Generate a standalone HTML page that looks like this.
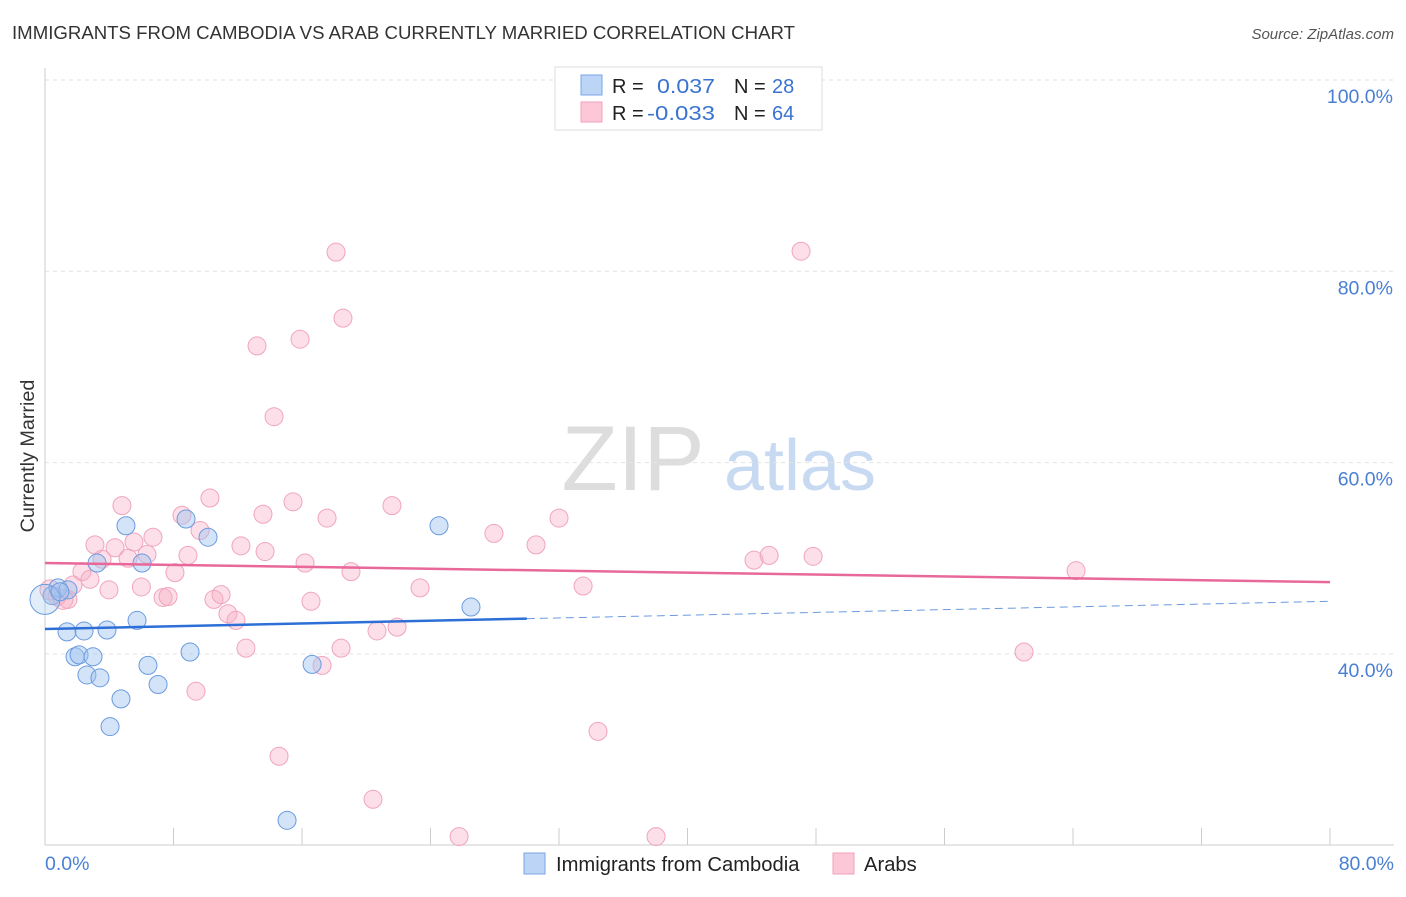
<!DOCTYPE html>
<html><head><meta charset="utf-8"><style>
body{margin:0;background:#fff;font-family:"Liberation Sans",sans-serif}
svg text{font-family:"Liberation Sans",sans-serif}
</style></head><body>
<svg id="c" width="1406" height="892" xmlns="http://www.w3.org/2000/svg">
<text x="12" y="39" font-size="18.6" fill="#333" textLength="783" lengthAdjust="spacingAndGlyphs">IMMIGRANTS FROM CAMBODIA VS ARAB CURRENTLY MARRIED CORRELATION CHART</text>
<text x="1394" y="39" font-size="15" fill="#555" text-anchor="end" font-style="italic">Source: ZipAtlas.com</text>
<text x="34" y="456" font-size="19.8" fill="#333" text-anchor="middle" transform="rotate(-90 34 456)">Currently Married</text>
<g><text x="633" y="490" font-size="92" fill="#ddd" text-anchor="middle" font-family="Liberation Serif">ZIP</text><text x="800" y="490" font-size="72" fill="#c8daf2" text-anchor="middle">atlas</text></g>
<g id="grid"></g><g id="axes"></g><g id="marks"></g>
<g>
<rect x="555" y="67" width="267" height="63" fill="#fff" stroke="#ddd"/>
<rect x="581" y="75" width="21" height="20" fill="#bcd4f6" stroke="#7aa6e6"/>
<rect x="581" y="102" width="21" height="20" fill="#fcc8d8" stroke="#f0a0b8"/>
<text x="612" y="93" font-size="20" fill="#222">R =</text>
<text x="657" y="93" font-size="20" fill="#3b73d1" textLength="58" lengthAdjust="spacingAndGlyphs">0.037</text>
<text x="734" y="93" font-size="20" fill="#222">N =</text>
<text x="772" y="93" font-size="20" fill="#3b73d1">28</text>
<text x="612" y="120" font-size="20" fill="#222">R =</text>
<text x="647" y="120" font-size="20" fill="#3b73d1" textLength="68" lengthAdjust="spacingAndGlyphs">-0.033</text>
<text x="734" y="120" font-size="20" fill="#222">N =</text>
<text x="772" y="120" font-size="20" fill="#3b73d1">64</text>
</g>
<g>
<rect x="524" y="853" width="21" height="21" fill="#bcd4f6" stroke="#7aa6e6"/>
<text x="556" y="871" font-size="20.2" fill="#222">Immigrants from Cambodia</text>
<rect x="833" y="853" width="21" height="21" fill="#fcc8d8" stroke="#f0a0b8"/>
<text x="864" y="871" font-size="20.2" fill="#222">Arabs</text>
</g>
</svg>
<script>
const yTicks=[40,60,80,100];
const xTickLabels=["0.0%","80.0%"];
const blueX=[0.44,0.81,1.43,5.04,6.04,3.24,8.78,10.15,1.37,2.43,3.86,5.73,1.87,2.12,2.99,2.61,3.42,6.41,7.04,9.03,4.73,4.05,15.07,16.63,24.53,26.52,0,0.93];
const blueY=[46.1,46.9,46.7,53.4,49.5,49.5,54.1,52.2,42.3,42.4,42.5,43.5,39.7,39.9,39.7,37.8,37.5,38.8,36.8,40.2,35.3,32.4,22.6,38.9,53.4,44.9,45.7,46.5];
const pinkX=[18.12,47.07,18.55,13.2,15.88,14.26,4.79,10.27,15.44,21.6,8.53,13.57,17.56,32.0,3.11,6.72,9.65,5.54,4.36,12.2,13.7,27.95,30.57,5.17,6.35,8.9,3.55,16.19,44.14,45.08,47.82,2.3,8.09,19.05,64.19,2.8,1.74,3.98,6.0,23.35,33.5,7.35,7.66,10.52,10.96,16.56,1.43,0.75,11.39,11.89,20.67,21.92,12.51,18.43,17.25,60.95,9.4,34.43,14.57,20.42,25.78,38.04,0.31,1.12];
const pinkY=[82.0,82.1,75.1,72.2,72.9,64.8,55.5,56.3,55.9,55.5,54.5,54.6,54.2,54.2,51.4,52.2,52.9,51.7,51.1,51.3,50.7,52.6,51.4,50.0,50.4,50.3,49.9,49.5,49.8,50.3,50.2,48.6,48.5,48.6,48.7,47.8,47.2,46.7,47.0,46.9,47.1,45.9,46.0,45.7,46.2,45.5,45.7,46.0,44.2,43.5,42.4,42.8,40.6,40.6,38.8,40.2,36.1,31.9,29.3,24.8,20.9,20.9,46.7,45.7];
const blueTrend=[42.6,45.5];
const pinkTrend=[49.5,47.5];
const blueSolidEnd=30;
const NS="http://www.w3.org/2000/svg";
const X=v=>45+v/80*1285;
const Y=v=>80+(100-v)*9.565;
function mk(t,a,p){const e=document.createElementNS(NS,t);for(const k in a)e.setAttribute(k,a[k]);document.getElementById(p).appendChild(e);return e;}
yTicks.forEach(t=>{
 const l=mk('line',{x1:45,x2:1394,y1:Y(t),y2:Y(t),stroke:'#e2e2e2','stroke-dasharray':'4,4'},'grid');
 
 
 const tx=mk('text',{x:1393,y:Y(t)+23,'font-size':19.5,fill:'#4a7fd4','text-anchor':'end'},'axes');
 tx.textContent=t.toFixed(1)+'%';
 
 
});
const ax=mk('line',{x1:45,x2:45,y1:68,y2:845,stroke:'#ccc'},'axes');


const bx=mk('line',{x1:45,x2:1394,y1:845,y2:845,stroke:'#ccc'},'axes');


for(let i=1;i<=10;i++){const t=mk('line',{x1:X(i*8),x2:X(i*8),y1:828,y2:845,stroke:'#ccc'},'axes');
 
 }
[[0,'start',45],[80,'end',1394]].forEach((d,i)=>{const t=mk('text',{x:d[2],y:870,'font-size':19.5,fill:'#4a7fd4','text-anchor':d[1]},'axes');t.textContent=xTickLabels[i];
 
 });
pinkX.forEach((v,i)=>{const c=mk('circle',{cx:X(v),cy:Y(pinkY[i]),r:i>=62?10:9,fill:'rgba(248,175,198,0.4)',stroke:'#f0a5bd','stroke-width':1},'marks');
 
 });
blueX.forEach((v,i)=>{const c=mk('circle',{cx:X(v),cy:Y(blueY[i]),r:i==26?15:9,fill:i==26?'rgba(160,195,240,0.3)':'rgba(160,195,240,0.45)',stroke:'#6a9be0','stroke-width':1},'marks');
 
 });
const bt=v=>blueTrend[0]+(blueTrend[1]-blueTrend[0])*v/80;
const l1=mk('line',{x1:X(0),y1:Y(bt(0)),x2:X(blueSolidEnd),y2:Y(bt(blueSolidEnd)),stroke:'#2d6fd6','stroke-width':2.5},'marks');


const l2=mk('line',{x1:X(blueSolidEnd),y1:Y(bt(blueSolidEnd)),x2:X(80),y2:Y(bt(80)),stroke:'#6a9be0','stroke-width':1,'stroke-dasharray':'8,5'},'marks');


const l3=mk('line',{x1:X(0),y1:Y(pinkTrend[0]),x2:X(80),y2:Y(pinkTrend[1]),stroke:'#e8689a','stroke-width':2.5},'marks');


</script>
</body></html>
